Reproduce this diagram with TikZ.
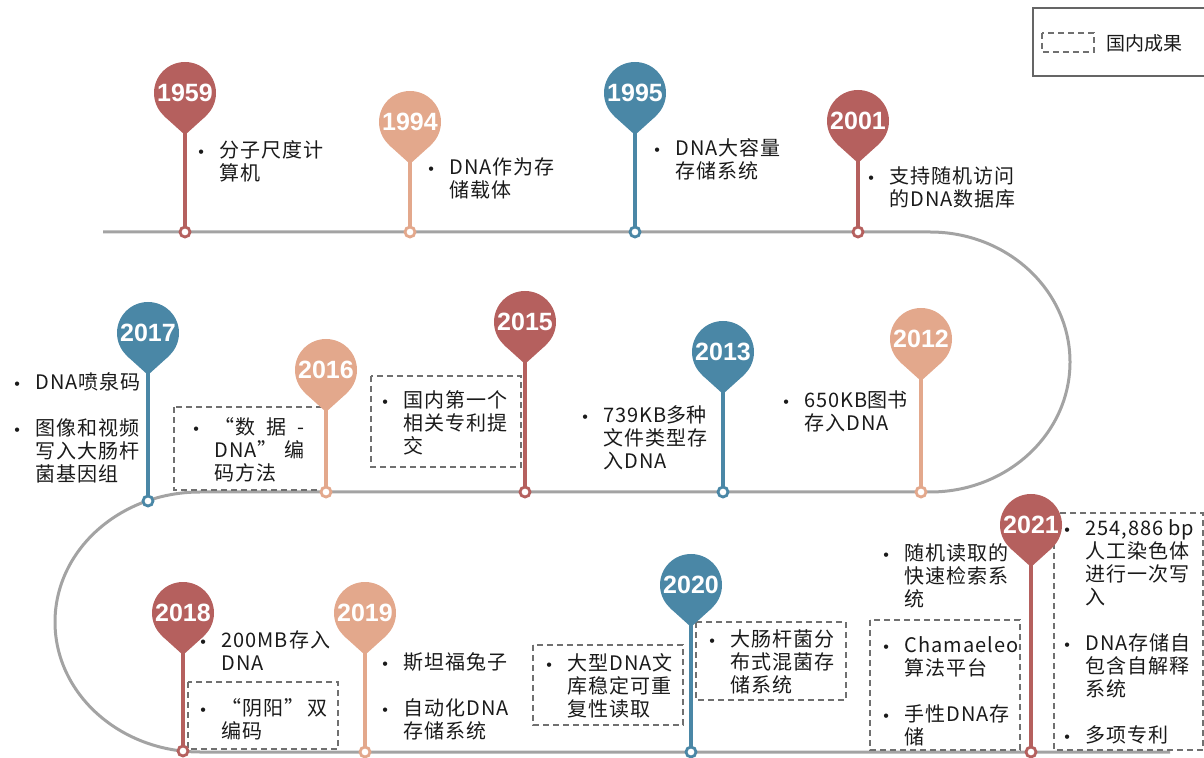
\documentclass[tikz,border=0pt]{standalone}
\usepackage{fontspec}
\newfontfamily\cjk[LetterSpace=5]{Noto Sans CJK SC}
\newfontfamily\cjkn{Noto Sans CJK SC}
\newfontfamily\yrfont{Liberation Sans}
\definecolor{rose}{HTML}{B5605E}
\definecolor{peach}{HTML}{E3A88C}
\definecolor{steel}{HTML}{4A87A6}
\definecolor{trackc}{HTML}{A3A3A3}
\definecolor{dashc}{HTML}{707070}
\definecolor{txt}{HTML}{1A1A1A}
\newcommand{\bulf}{\yrfont\fontsize{8pt}{8pt}\selectfont}
\newcommand{\bl}[1]{\makebox[10.5pt][l]{\bulf •}#1}
\newcommand{\cl}[1]{\hspace*{10.5pt}#1}
\newcommand{\blk}[1]{\parbox[t]{90pt}{\cjk\fontsize{10pt}{11.5pt}\selectfont\lineskiplimit=-20pt\raggedright #1}}
\newcommand{\pin}[6]{%
  \fill[#5] (#2-21,#3+23) -- (#2,#3+42) -- (#2+21,#3+23) -- cycle;
  \node[head,fill=#5] (h#1) at (#2,#3) {#6};
  \coordinate (t#1) at (#2,#3+40);
  \node[dot,draw=#5] (d#1) at (#2,#4) {};
  \draw[stem,#5] (t#1) -- (d#1);
}
\tikzset{
  head/.style={circle,minimum size=31pt,inner sep=0pt,text=white,
    font=\yrfont\bfseries\fontsize{12.5pt}{12.5pt}\selectfont},
  dot/.style={circle,minimum size=5pt,inner sep=0pt,line width=1.4pt,fill=white},
  stem/.style={line width=2pt},
  trackline/.style={line width=1.5pt,draw=trackc},
  tb/.style={anchor=base west,inner sep=0pt,text=txt},
  dbox/.style={draw=dashc,line width=0.6pt,dash pattern=on 3pt off 2pt},
  legendbox/.style={draw=dashc!90!black,line width=0.7pt}
}
\begin{document}
\begin{tikzpicture}[x=0.5pt,y=-0.5pt]
\useasboundingbox (0,0) rectangle (1204,758);
% track
\draw[trackline] (103,232) -- (930,232)
  .. controls (1007.3,232) and (1070,290.2) .. (1070,362)
  .. controls (1070,433.8) and (1007.3,492) .. (930,492)
  -- (200,492)
  .. controls (119.9,492) and (55,550.2) .. (55,622)
  .. controls (55,693.8) and (119.9,752) .. (200,752)
  -- (1170,752);
% dashed boxes
\draw[dbox] (174,407) rectangle (325,490);
\draw[dbox] (371,376) rectangle (521,467);
\draw[dbox] (188,682) rectangle (338,749);
\draw[dbox] (533,645) rectangle (683,725);
\draw[dbox] (696,622) rectangle (846,700);
\draw[dbox] (870,620) rectangle (1020,750);
\draw[dbox] (1054,513) rectangle (1203,750);
% pins
\pin{a}{185}{93}{232}{rose}{1959}
\pin{b}{410}{122}{232}{peach}{1994}
\pin{c}{635}{93}{232}{steel}{1995}
\pin{d}{858}{121}{232}{rose}{2001}
\pin{e}{148}{333}{501}{steel}{2017}
\pin{f}{326}{370}{492}{peach}{2016}
\pin{g}{525}{322}{492}{rose}{2015}
\pin{h}{723}{352}{492}{steel}{2013}
\pin{i}{921}{339}{492}{peach}{2012}
\pin{j}{183}{613}{751}{rose}{2018}
\pin{k}{365}{613}{752}{peach}{2019}
\pin{l}{691}{585}{752}{steel}{2020}
\pin{m}{1031}{525}{752}{rose}{2021}
% texts
\node[tb] (xa) at (198,157.5) {\blk{\bl{分子尺度计}\\\cl{算机}}};
\node[tb] (xb) at (428,174.5) {\blk{\bl{DNA作为存}\\\cl{储载体}}};
\node[tb] (xc) at (654,155.5) {\blk{\bl{DNA大容量}\\\cl{存储系统}}};
\node[tb] (xd) at (868,183.5) {\blk{\bl{支持随机访问}\\\cl{的DNA数据库}}};
\node[tb] (xe) at (14,389.5) {\blk{\bl{DNA喷泉码}\\[11.5pt]\bl{图像和视频}\\\cl{写入大肠杆}\\\cl{菌基因组}}};
\node[tb] (xf) at (193,434.5) {\blk{\bl{\makebox[45pt][s]{“数\hfill 据\hfill -}}\\\cl{\makebox[45pt][s]{DNA”\hfill 编}}\\\cl{码方法}}};
\node[tb] (xg) at (382,407.5) {\blk{\bl{国内第一个}\\\cl{相关专利提}\\\cl{交}}};
\node[tb] (xh) at (582,422.5) {\blk{\bl{\makebox[51.5pt][s]{739KB\hfill 多\hfill 种}}\\\cl{文件类型存}\\\cl{入DNA}}};
\node[tb] (xi) at (783,407.5) {\blk{\bl{\makebox[51.5pt][s]{650KB\hfill 图\hfill 书}}\\\cl{存入DNA}}};
\node[tb] (xj) at (200,647.5) {\blk{\bl{200MB存入}\\\cl{DNA}}};
\node[tb] (xj2) at (200,715.5) {\blk{\bl{\makebox[53pt][s]{“阴阳”\hfill 双}}\\\cl{编码}}};
\node[tb] (xk) at (382,669.5) {\blk{\bl{斯坦福兔子}\\[11.5pt]\bl{自动化DNA}\\\cl{存储系统}}};
\node[tb] (xl) at (546,670.5) {\blk{\bl{大型DNA文}\\\cl{库稳定可重}\\\cl{复性读取}}};
\node[tb] (xl2) at (709,646.5) {\blk{\bl{大肠杆菌分}\\\cl{布式混菌存}\\\cl{储系统}}};
\node[tb] (xm) at (883,560.5) {\blk{\bl{随机读取的}\\\cl{快速检索系}\\\cl{统}}};
\node[tb] (xm2) at (883,652.5) {\blk{\bl{Chamaeleo}\\\cl{算法平台}\\[11.5pt]\bl{手性DNA存}\\\cl{储}}};
\node[tb] (xm3) at (1064,535.5) {\blk{\bl{254,886\hspace{2.5pt}bp}\\\cl{人工染色体}\\\cl{进行一次写}\\\cl{入}\\[11.5pt]\bl{DNA存储自}\\\cl{包含自解释}\\\cl{系统}\\[11.5pt]\bl{多项专利}}};
% legend
\draw[legendbox] (1033,8) rectangle (1212,76);
\draw[dbox] (1042,33) rectangle (1094,52);
\node[anchor=west,inner sep=0pt,text=txt,font=\cjkn\fontsize{9.5pt}{9.5pt}\selectfont] (lg) at (1106,43) {国内成果};
\end{tikzpicture}
\end{document}
